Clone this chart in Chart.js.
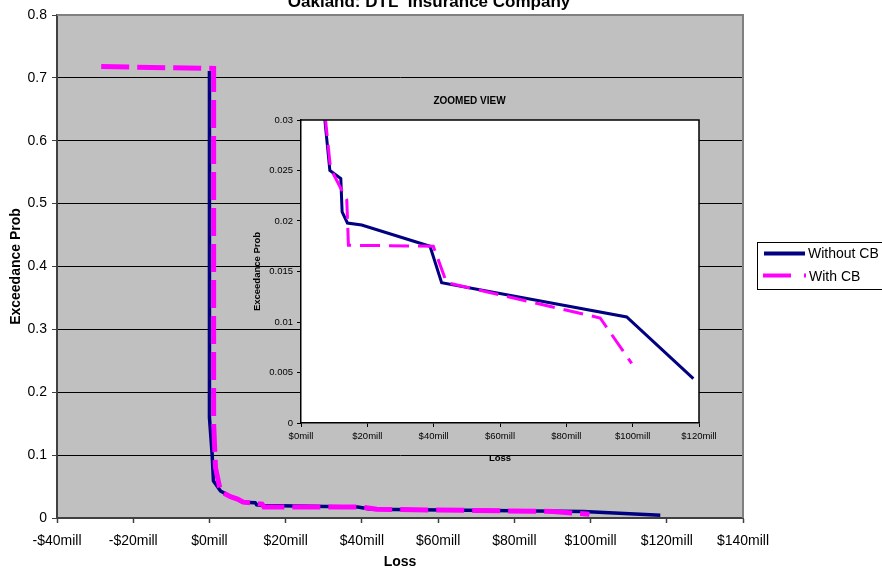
<!DOCTYPE html>
<html>
<head>
<meta charset="utf-8">
<script src="https://cdn.jsdelivr.net/npm/chart.js@4"></script>
<style>
  html, body { margin: 0; padding: 0; background: #fff; }
  #wrap { position: relative; width: 882px; height: 571px; overflow: hidden; }
  #mainChart { position: absolute; left: 0; top: 0; }
  #zoomChart { position: absolute; left: 240px; top: 88px; }
</style>
</head>
<body>
<div id="wrap">
  <canvas id="mainChart" width="882" height="571"></canvas>
  <canvas id="zoomChart" width="490" height="377"></canvas>
</div>
<script>
// ================= DATA =================
// loss in $mill, exceedance probability
const withoutLoss = [0, 0, 0.7, 1.05, 2.9, 5.5, 7.2, 8.7, 12.0, 12.4, 14.0, 18.3, 38.9, 42.4, 98.2, 118.3];
const withoutProb = [0.711, 0.16, 0.102, 0.059, 0.043, 0.034, 0.030, 0.0250, 0.0242, 0.0209, 0.0198, 0.0196, 0.0175, 0.0139, 0.0105, 0.0044];

const withLoss = [-28.4, 1.1, 1.1, 1.6, 2.9, 5.5, 7.4, 8.9, 13.8, 14.3, 39.9, 43.9, 90.2, 99.7];
const withProb = [0.718, 0.715, 0.15, 0.08, 0.042, 0.034, 0.030, 0.0252, 0.0221, 0.0176, 0.0175, 0.0139, 0.0104, 0.0059];

const seriesNames = ["Without CB", "With CB"];
const mainTitle = "Oakland: DTL  Insurance Company";
const zoomTitle = "ZOOMED VIEW";

const NAVY = "#000080";
const PINK = "#FF00FF";

Chart.defaults.font.family = '"Liberation Sans", Arial, sans-serif';
Chart.defaults.color = "#000";

function toPoints(xs, ys) {
  return xs.map((x, i) => ({ x: x, y: ys[i] }));
}

function fmtMill(v) {
  return (v < 0 ? "-$" + (-v) : "$" + v) + "mill";
}

// ================= MAIN CHART =================
const mainDecor = {
  id: "mainDecor",
  beforeDraw(chart) {
    const { ctx, chartArea: a } = chart;
    ctx.save();
    ctx.fillStyle = "#C0C0C0";
    ctx.fillRect(a.left, a.top, a.right - a.left, a.bottom - a.top);
    ctx.restore();
  },
  beforeDatasetsDraw(chart) {
    const { ctx, chartArea: a } = chart;
    ctx.save();
    ctx.strokeStyle = "#808080";
    ctx.lineWidth = 2;
    ctx.beginPath();
    ctx.moveTo(a.left, a.top);
    ctx.lineTo(a.right, a.top);
    ctx.lineTo(a.right, a.bottom);
    ctx.stroke();
    ctx.restore();
  },
  afterDraw(chart) {
    const ctx = chart.ctx;
    ctx.save();
    // title (cut at the top, as in the original)
    ctx.fillStyle = "#000";
    ctx.font = 'bold 17px "Liberation Sans", Arial, sans-serif';
    ctx.textAlign = "center";
    ctx.textBaseline = "alphabetic";
    ctx.fillText(mainTitle, 429, 7);

    // legend
    ctx.strokeStyle = "#000";
    ctx.lineWidth = 1;
    ctx.strokeRect(757.5, 242.5, 140, 47);
    ctx.lineWidth = 4;
    ctx.strokeStyle = NAVY;
    ctx.beginPath();
    ctx.moveTo(764, 253.5);
    ctx.lineTo(805, 253.5);
    ctx.stroke();
    ctx.strokeStyle = PINK;
    ctx.setLineDash([28, 13]);
    ctx.beginPath();
    ctx.moveTo(763, 275.5);
    ctx.lineTo(806, 275.5);
    ctx.stroke();
    ctx.setLineDash([]);
    ctx.font = '14px "Liberation Sans", Arial, sans-serif';
    ctx.textAlign = "left";
    ctx.textBaseline = "middle";
    ctx.fillText(seriesNames[0], 808, 254);
    ctx.fillText(seriesNames[1], 809, 277);
    ctx.restore();
  }
};

new Chart(document.getElementById("mainChart"), {
  type: "scatter",
  data: {
    datasets: [
      {
        label: seriesNames[0],
        data: toPoints(withoutLoss, withoutProb),
        showLine: true,
        borderColor: NAVY,
        borderWidth: 3.5,
        pointRadius: 0,
        tension: 0,
        order: 2
      },
      {
        label: seriesNames[1],
        data: toPoints(withLoss, withProb),
        showLine: true,
        borderColor: PINK,
        borderWidth: 5,
        borderDash: [28, 8],
        pointRadius: 0,
        tension: 0,
        order: 1
      }
    ]
  },
  options: {
    responsive: false,
    animation: false,
    layout: { padding: { top: 15, right: 139, left: 0, bottom: 0 } },
    plugins: { legend: { display: false }, tooltip: { enabled: false } },
    scales: {
      x: {
        type: "linear",
        min: -40,
        max: 140,
        ticks: { stepSize: 20, font: { size: 14 }, padding: 10, callback: fmtMill },
        grid: { drawOnChartArea: false, tickLength: 5, tickColor: "#404040", tickWidth: 1.5 },
        border: { color: "#404040", width: 2 },
        title: { display: true, text: "Loss", font: { size: 14, weight: "bold" }, padding: { top: 0, bottom: 0 } },
        afterFit(s) { s.height = 53; s.paddingLeft = 0; s.paddingRight = 0; }
      },
      y: {
        min: 0,
        max: 0.8,
        ticks: { stepSize: 0.1, font: { size: 14 }, padding: 5, callback: v => String(+v.toFixed(1)) },
        grid: { color: "#000", lineWidth: 1, tickLength: 5, tickColor: "#404040" },
        border: { color: "#404040", width: 2 },
        title: { display: true, text: "Exceedance Prob", font: { size: 14, weight: "bold" }, padding: { top: 8, bottom: 0 } },
        afterFit(s) { s.width = 57; s.paddingTop = 0; s.paddingBottom = 0; }
      }
    }
  },
  plugins: [mainDecor]
});

// ================= ZOOMED VIEW =================
const zoomDecor = {
  id: "zoomDecor",
  beforeDraw(chart) {
    const { ctx, chartArea: a } = chart;
    ctx.save();
    ctx.fillStyle = "#FFFFFF";
    ctx.fillRect(a.left, a.top, a.right - a.left, a.bottom - a.top);
    ctx.restore();
  },
  afterDatasetsDraw(chart) {
    const { ctx, chartArea: a } = chart;
    ctx.save();
    ctx.strokeStyle = "#000";
    ctx.lineWidth = 1.5;
    ctx.beginPath();
    ctx.moveTo(a.left, a.top);
    ctx.lineTo(a.right, a.top);
    ctx.lineTo(a.right, a.bottom);
    ctx.stroke();
    ctx.restore();
  }
};

new Chart(document.getElementById("zoomChart"), {
  type: "scatter",
  data: {
    datasets: [
      {
        label: seriesNames[0],
        data: toPoints(withoutLoss, withoutProb),
        showLine: true,
        borderColor: NAVY,
        borderWidth: 3,
        pointRadius: 0,
        tension: 0,
        order: 2
      },
      {
        label: seriesNames[1],
        data: toPoints(withLoss, withProb),
        showLine: true,
        borderColor: PINK,
        borderWidth: 3,
        borderDash: [20, 9],
        pointRadius: 0,
        tension: 0,
        order: 1
      }
    ]
  },
  options: {
    responsive: false,
    animation: false,
    layout: { padding: { top: 0, right: 31, left: 0, bottom: 0 } },
    plugins: {
      legend: { display: false },
      tooltip: { enabled: false },
      title: {
        display: true,
        text: zoomTitle,
        font: { size: 10, weight: "bold" },
        color: "#000",
        padding: { top: 7, bottom: 13 }
      }
    },
    scales: {
      x: {
        type: "linear",
        min: 0,
        max: 120,
        ticks: { stepSize: 20, font: { size: 9.5 }, padding: 4, callback: v => "$" + v + "mill" },
        grid: { drawOnChartArea: false, tickLength: 4, tickColor: "#000" },
        border: { color: "#000", width: 1.5 },
        title: { display: true, text: "Loss", font: { size: 9.5, weight: "bold" }, padding: { top: 0, bottom: 1 } },
        afterFit(s) { s.height = 42; s.paddingLeft = 0; s.paddingRight = 0; }
      },
      y: {
        min: 0,
        max: 0.03,
        ticks: { stepSize: 0.005, font: { size: 9.5 }, padding: 4, callback: v => String(+v.toFixed(3)) },
        grid: { drawOnChartArea: false, tickLength: 4, tickColor: "#000" },
        border: { color: "#000", width: 1.5 },
        title: { display: true, text: "Exceedance Prob", font: { size: 9.5, weight: "bold" }, padding: { top: 12, bottom: 0 } },
        afterFit(s) { s.width = 61; s.paddingTop = 0; s.paddingBottom = 0; }
      }
    }
  },
  plugins: [zoomDecor]
});
</script>
</body>
</html>
